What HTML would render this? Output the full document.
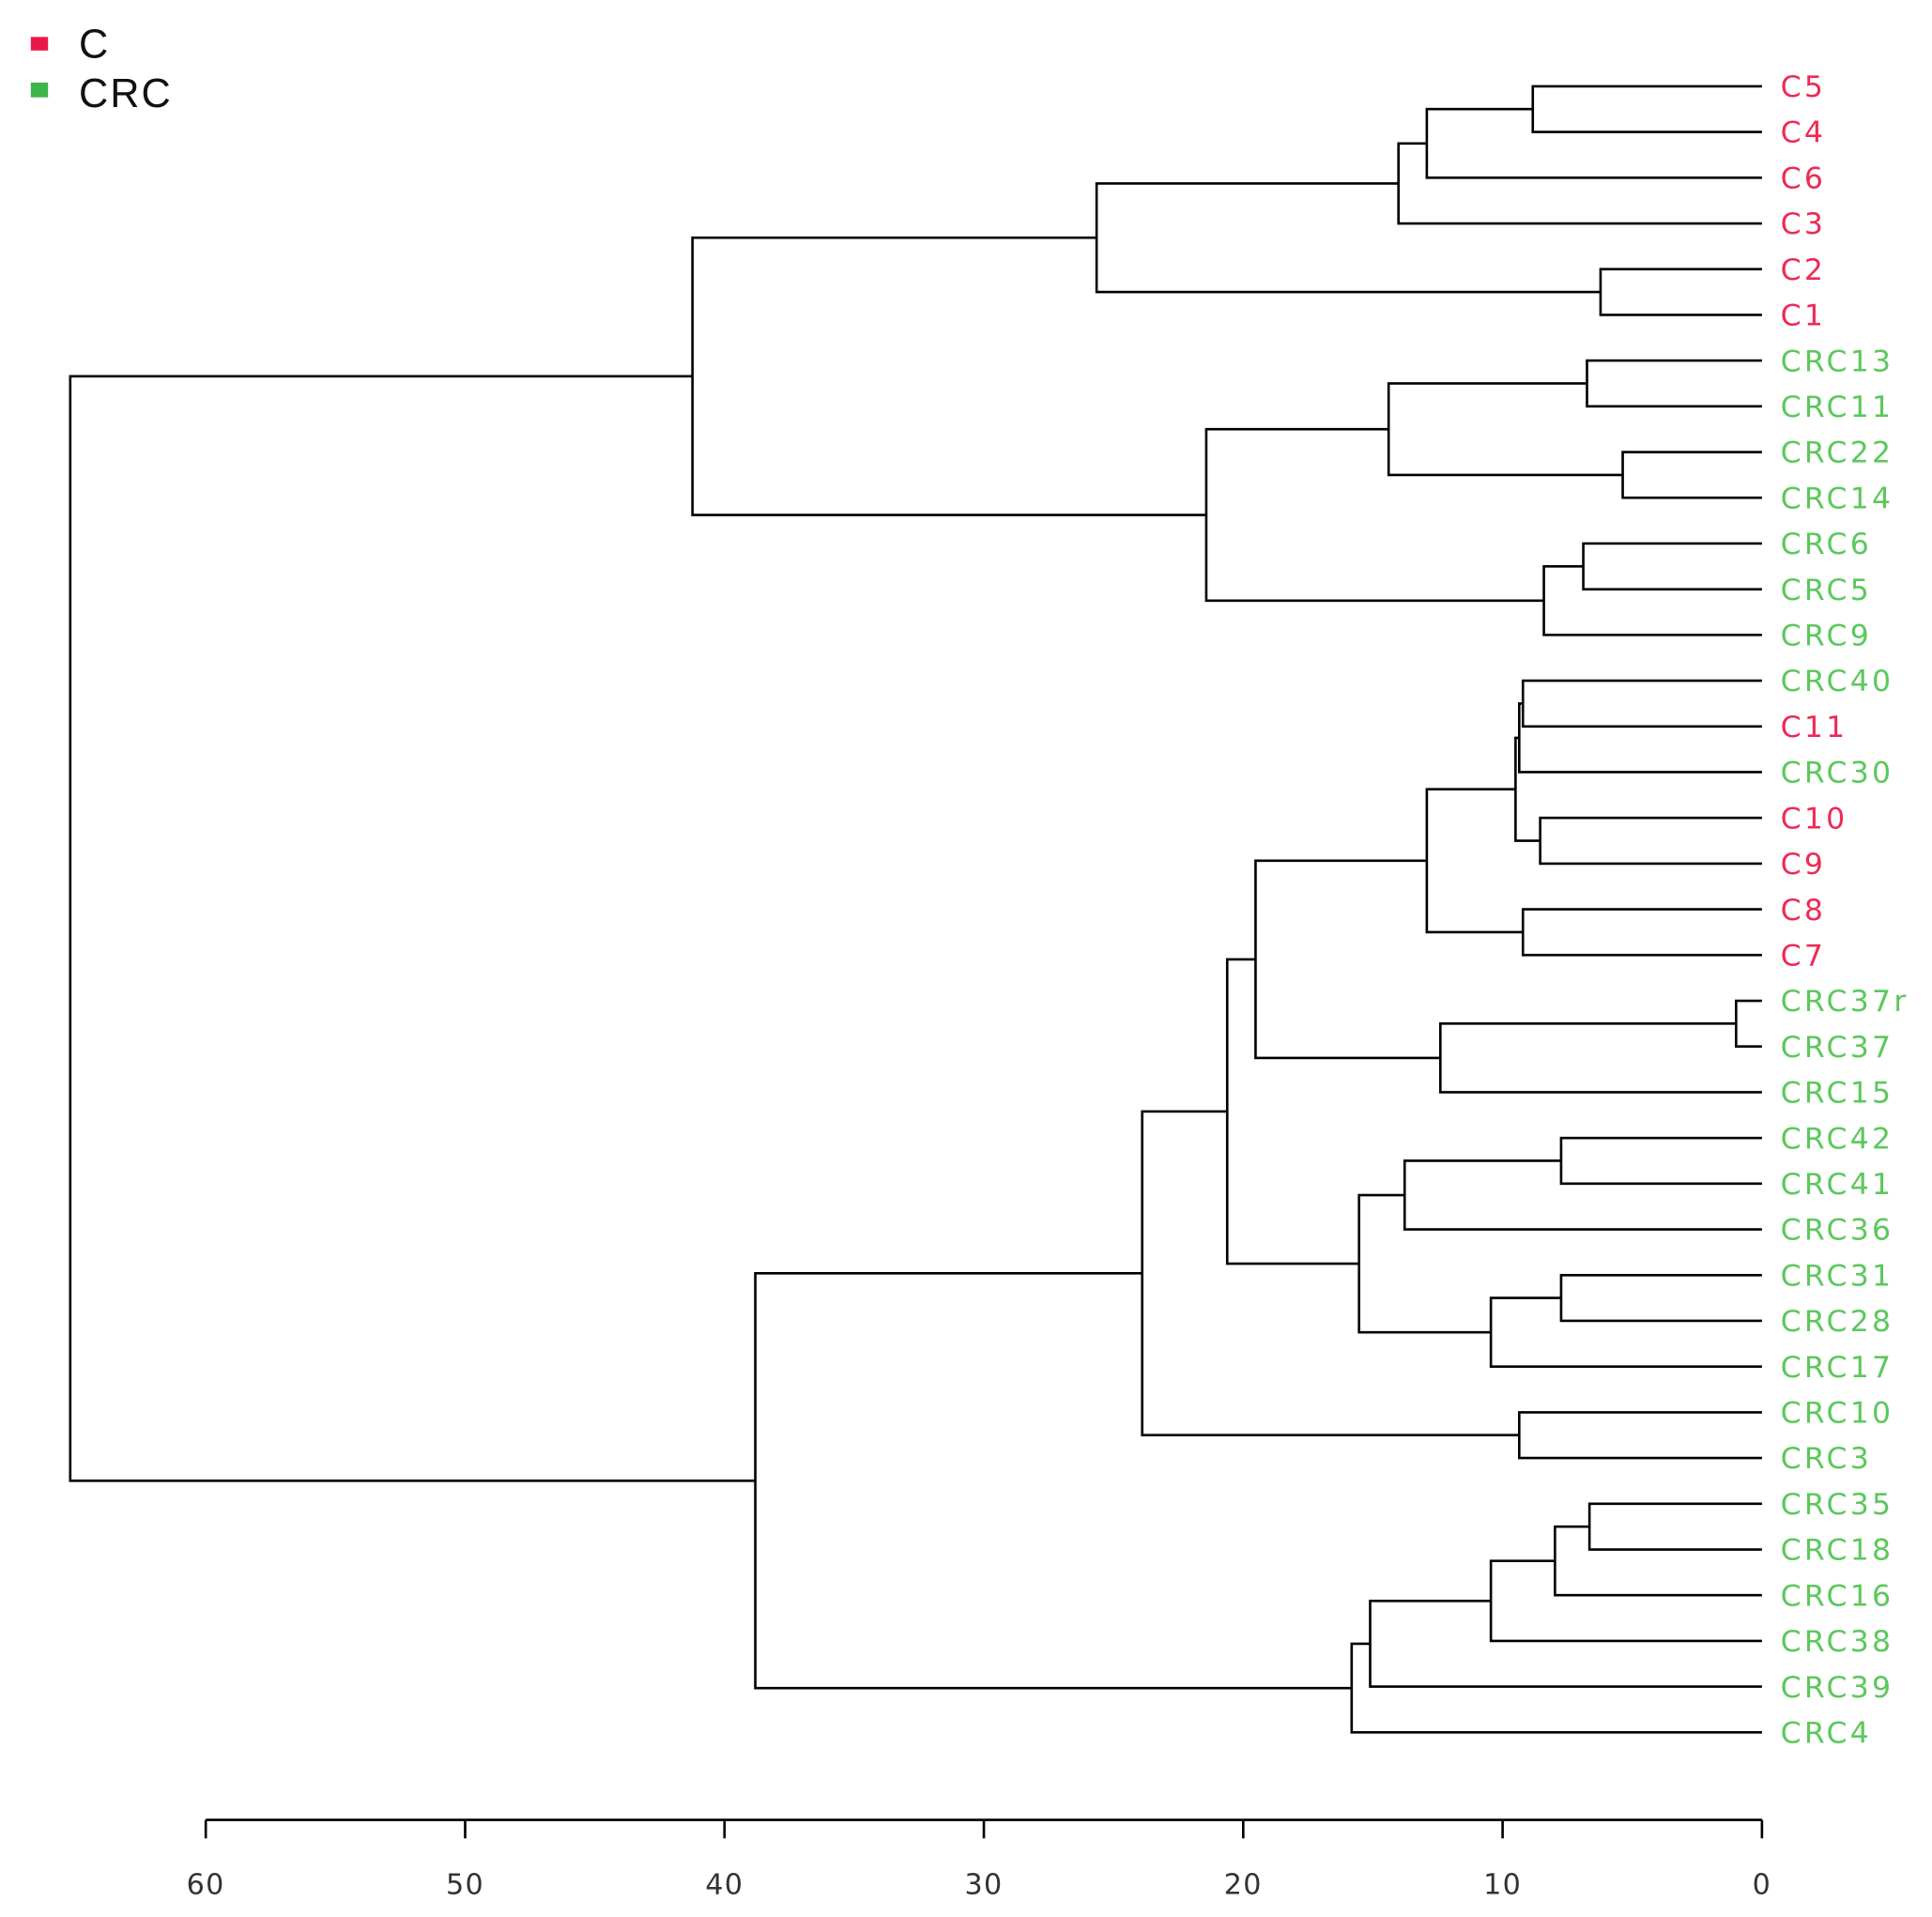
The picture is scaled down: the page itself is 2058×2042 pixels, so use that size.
<!DOCTYPE html>
<html><head><meta charset="utf-8"><style>html,body{margin:0;padding:0;background:#fff}svg{display:block}</style></head>
<body>
<svg id="s" width="2058" height="2042" viewBox="0 0 1568 1555.8" xmlns="http://www.w3.org/2000/svg" font-family="DejaVu Sans, Liberation Sans, sans-serif">
<rect x="0" y="0" width="1568" height="1556" fill="#fff"/>
<rect x="25" y="30" width="14" height="11" fill="#e8194a"/>
<rect x="25" y="67" width="14" height="12" fill="#3cb54a"/>
<text x="64" y="47" font-size="33" fill="#111" font-family="Liberation Sans, sans-serif" letter-spacing="1.5">C</text>
<text x="64" y="87" font-size="33" fill="#111" font-family="Liberation Sans, sans-serif" letter-spacing="1.5">CRC</text>
<g id="tree" stroke="#000" stroke-width="2" fill="none"></g>
<g id="lab" font-size="24" letter-spacing="2.5"></g>
<g stroke="#000" stroke-width="2">
<line x1="167" y1="1477" x2="1430" y2="1477"/>
</g>
<g id="ax" font-size="23" fill="#333" text-anchor="middle" letter-spacing="1"></g>
</svg>
<script>
var names=["C5","C4","C6","C3","C2","C1","CRC13","CRC11","CRC22","CRC14","CRC6","CRC5","CRC9","CRC40","C11","CRC30","C10","C9","C8","C7","CRC37r","CRC37","CRC15","CRC42","CRC41","CRC36","CRC31","CRC28","CRC17","CRC10","CRC3","CRC35","CRC18","CRC16","CRC38","CRC39","CRC4"];
var NS="http://www.w3.org/2000/svg";
var tree=document.getElementById('tree'),lab=document.getElementById('lab'),ax=document.getElementById('ax');
function Y(i){return 70+37.11*i;}
var nodes={};
names.forEach(function(n,i){nodes[n]={x:1430,y:Y(i)};
 var t=document.createElementNS(NS,'text');t.setAttribute('x',1445);t.setAttribute('y',Y(i)+8.5);
 t.setAttribute('fill',n.indexOf('CRC')==0?'#5cc85c':'#ee2a55');t.textContent=n;lab.appendChild(t);});
var path='';
function J(id,a,b,x){var A=nodes[a],B=nodes[b];
 path+='M'+A.x+' '+A.y+'H'+x+'V'+B.y+'H'+B.x;
 nodes[id]={x:x,y:(A.y+B.y)/2};}
J('A','C5','C4',1244);J('B','A','C6',1158);J('D','B','C3',1135);
J('E','C2','C1',1299);J('F','D','E',890);
J('G','CRC13','CRC11',1288);J('H','CRC22','CRC14',1317);J('I','G','H',1127);
J('Jn','CRC6','CRC5',1285);J('K','Jn','CRC9',1253);J('L','I','K',979);J('M','F','L',562);
J('N1','CRC40','C11',1236);J('N2','N1','CRC30',1233);J('N3','C10','C9',1250);J('N4','N2','N3',1230);
J('N5','C8','C7',1236);J('N6','N4','N5',1158);J('N7','CRC37r','CRC37',1409);J('N8','N7','CRC15',1169);
J('N9','N6','N8',1019);J('N10','CRC42','CRC41',1267);J('N11','N10','CRC36',1140);
J('N12','CRC31','CRC28',1267);J('N13','N12','CRC17',1210);J('N14','N11','N13',1103);
J('N15','N9','N14',996);J('N16','CRC10','CRC3',1233);J('N17','N15','N16',927);
J('N18','CRC35','CRC18',1290);J('N19','N18','CRC16',1262);J('N20','N19','CRC38',1210);
J('N21','N20','CRC39',1112);J('N22','N21','CRC4',1097);J('N23','N17','N22',613);J('R','M','N23',57);
var p=document.createElementNS(NS,'path');p.setAttribute('d',path);tree.appendChild(p);
for(var v=0;v<=60;v+=10){var x=1430-v*1263/60;
 var l=document.createElementNS(NS,'line');l.setAttribute('x1',x);l.setAttribute('x2',x);l.setAttribute('y1',1477);l.setAttribute('y2',1492);l.setAttribute('stroke','#000');l.setAttribute('stroke-width',2);ax.appendChild(l);
 var t=document.createElementNS(NS,'text');t.setAttribute('x',x);t.setAttribute('y',1537);t.textContent=v;ax.appendChild(t);}
</script>
</body></html>
